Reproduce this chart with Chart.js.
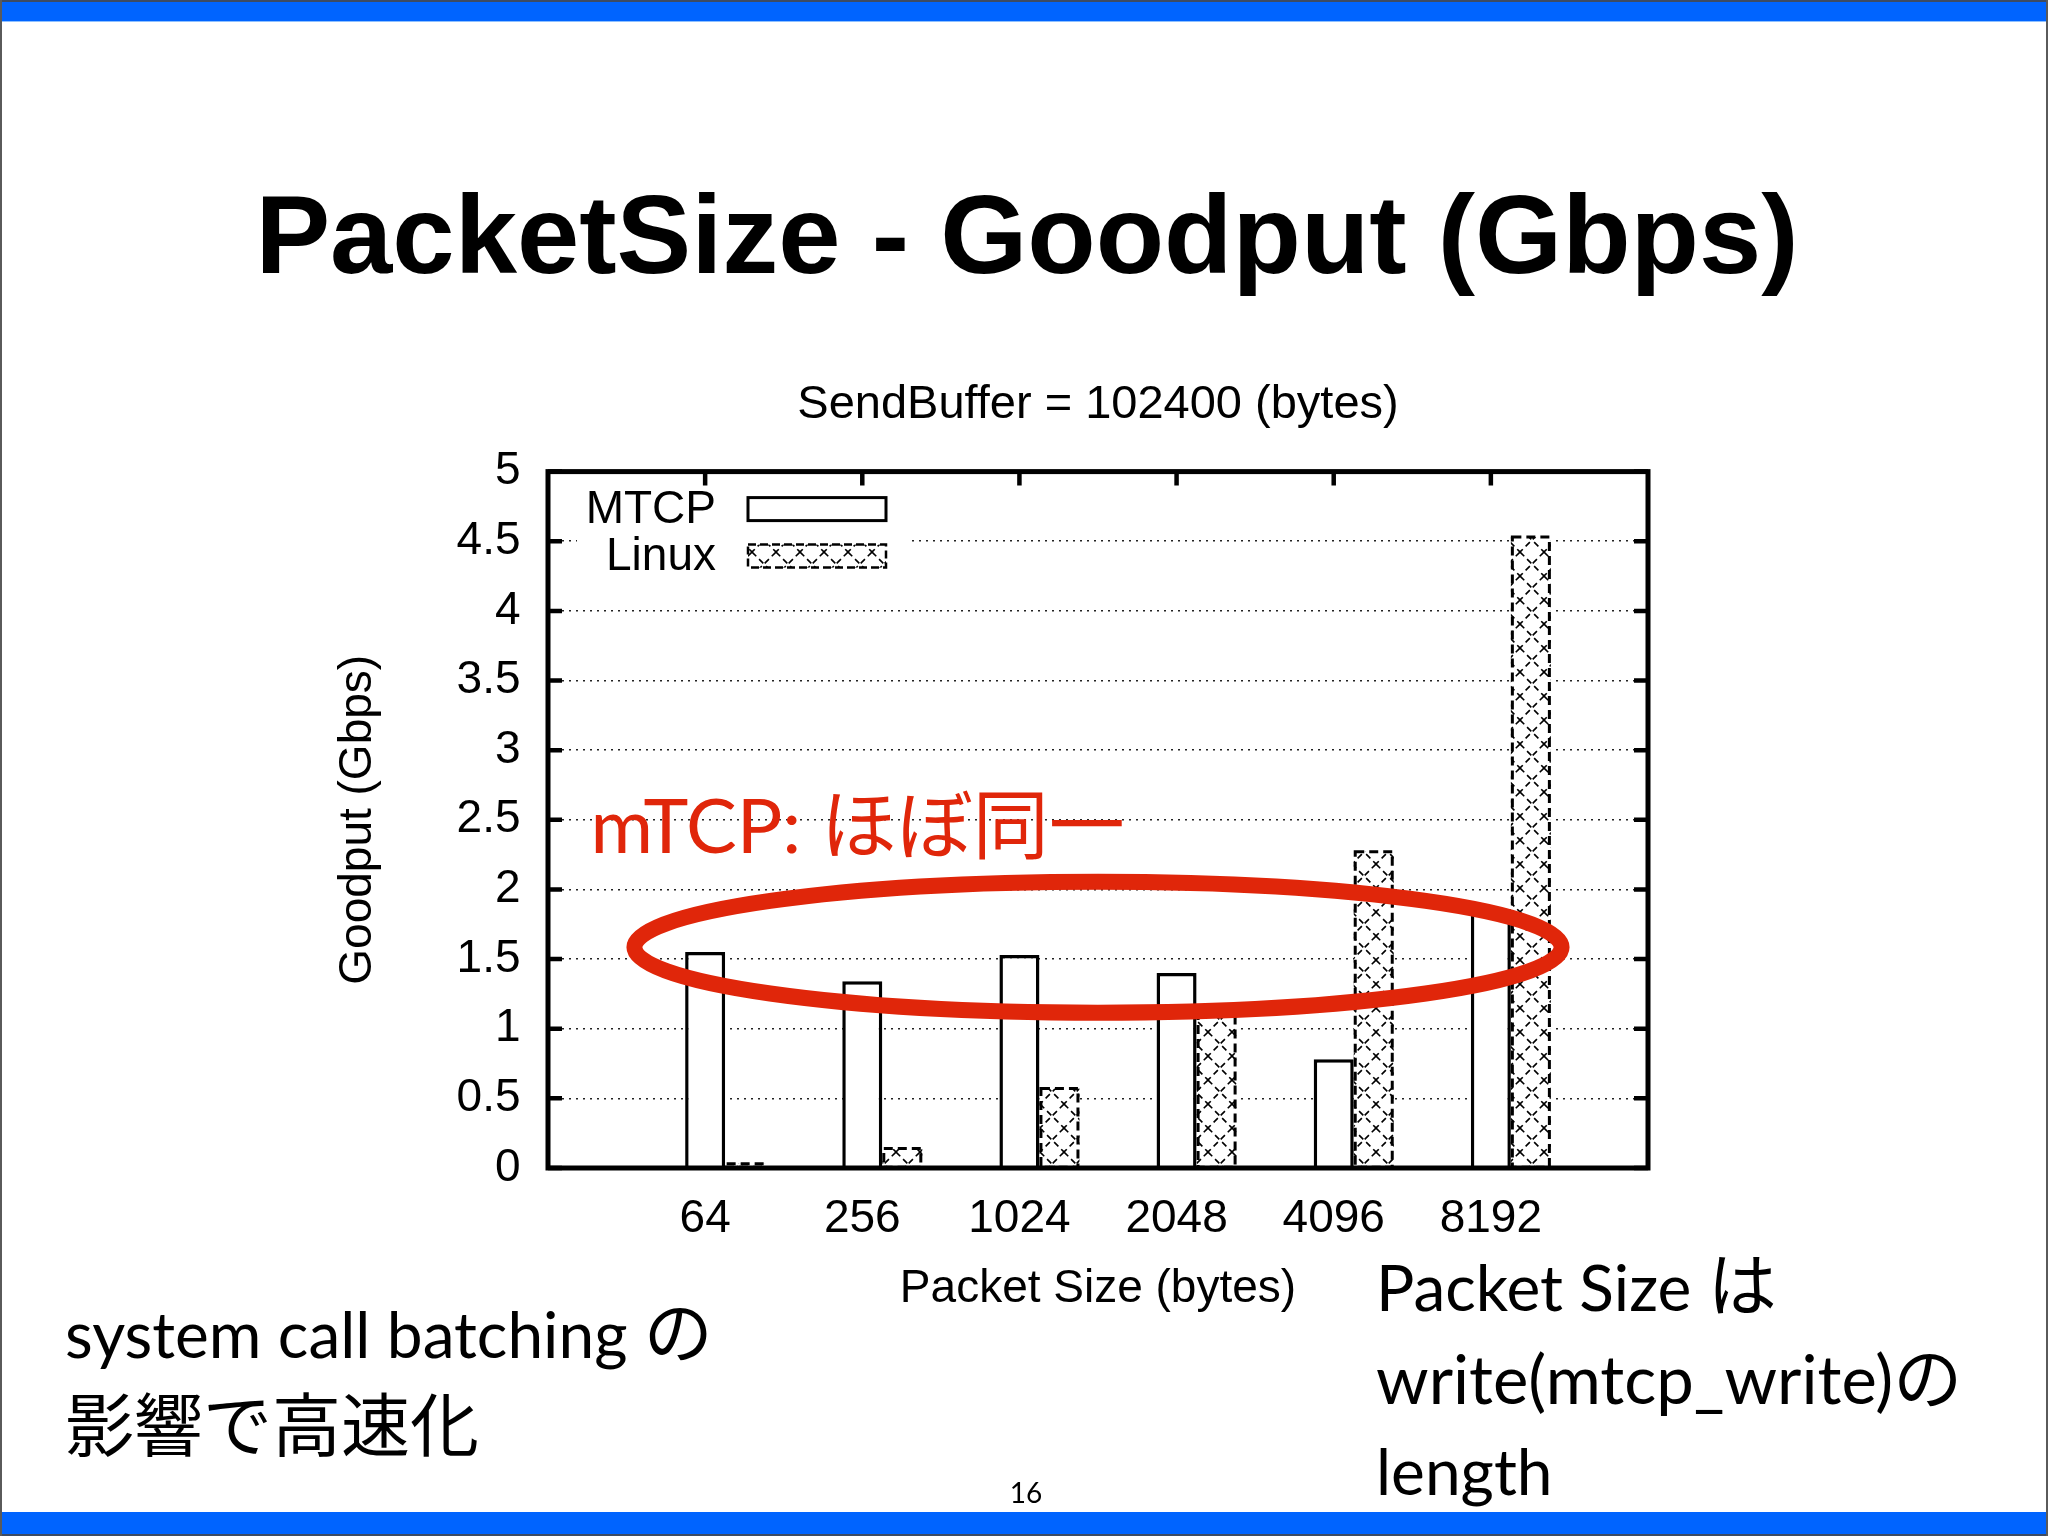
<!DOCTYPE html>
<html>
<head>
<meta charset="utf-8">
<script src="https://cdn.jsdelivr.net/npm/chart.js@4.4.1/dist/chart.umd.min.js"></script>
<style>
  body { margin: 0; background: #fff; }
  #slide {
    position: relative; width: 2048px; height: 1536px; overflow: hidden;
    background: #fff; box-sizing: border-box;
    border-left: 2px solid #5a5a5a; border-right: 2px solid #5a5a5a;
  }
  .band { position: absolute; left: 0; width: 100%; background: #0064ff; }
  .band.top { top: 0; height: 22px; border-top: 2px solid #3d4b63; border-bottom: 1px solid #8ec0ff; box-sizing: border-box; }
  .band.bottom { top: 1512px; height: 24px; border-bottom: 2px solid #3d4b63; box-sizing: border-box; }
  h1 {
    position: absolute; left: 0; top: 179px; width: 2050px; margin: 0;
    text-align: center; font: bold 112px/112px "Liberation Sans", Arial, sans-serif; color: #000;
  }
  #wrap { position: absolute; left: 246px; top: 0; width: 1700px; height: 1536px; }
  .note {
    position: absolute; font: 64px/91px Lato, "Noto Sans CJK JP", sans-serif; color: #000;
    white-space: nowrap; z-index: 2;
  }
  .note .ja { font-size: 69px; }
  .note .wide { font-size: 67px; }
  .page {
    position: absolute; left: 974px; top: 1478px; width: 100px; text-align: center;
    font: 28px/28px Lato, sans-serif; color: #000;
  }
</style>
</head>
<body>
<div id="slide">
  <div class="band top"></div>
  <div class="band bottom"></div>
  <h1>PacketSize - Goodput (Gbps)</h1>
  <div id="wrap"><canvas id="chart"></canvas></div>
  <div class="note" style="left:63px; top:1286px;">system call batching <span class="ja">の</span><br><span class="ja">影響で高速化</span></div>
  <div class="note" style="left:1374px; top:1239px;">Packet Size <span class="ja">は</span><br><span class="wide">write(mtcp_write)</span><span class="ja">の</span><br>length</div>
  <div class="page">16</div>
</div>
<script>
// data
const packetSizes = ['64', '256', '1024', '2048', '4096', '8192'];
const mtcpGoodput = [1.55, 1.34, 1.53, 1.40, 0.78, 1.86];
const linuxGoodput = [0.03, 0.14, 0.57, 1.13, 2.27, 4.53];
const yTickLabels = ['0', '0.5', '1', '1.5', '2', '2.5', '3', '3.5', '4', '4.5', '5'];

// red annotation, in data units
const ring = { x: 3.5, y: 1.585, rx: 2.95, ry: 0.47 };
const ringNote = { text: 'mTCP: ほぼ同一', x: 0.27, y: 2.265 };
const RED = 'rgb(224,38,10)';

const FONT = "'Liberation Sans', Arial, Helvetica, sans-serif";
Chart.defaults.font.family = FONT;
Chart.defaults.font.size = 46;
Chart.defaults.color = '#000';

// empty slot at each end so the axis runs from -1 to 6 like gnuplot
const labels = ['', ...packetSizes, ''];
const pad = arr => [null, ...arr, null];

function makeHatch() {
  const n = 24;
  const c = document.createElement('canvas');
  c.width = n; c.height = n;
  const g = c.getContext('2d');
  g.fillStyle = '#fff';
  g.fillRect(0, 0, n, n);
  g.strokeStyle = '#000';
  g.lineWidth = 1.6;
  g.setLineDash([6, 4]);
  g.beginPath();
  g.moveTo(0, 0); g.lineTo(n, n);
  g.moveTo(n, 0); g.lineTo(0, n);
  g.stroke();
  return g.createPattern(c, 'repeat');
}
const hatch = makeHatch();

// dashed outline for the Linux bars, frame with inward ticks
const framePlugin = {
  id: 'frame',
  afterDatasetsDraw(chart) {
    const { ctx, chartArea: a, scales: { x, y } } = chart;
    ctx.save();
    const meta = chart.getDatasetMeta(2);
    const raw = chart.data.datasets[2].data;
    ctx.strokeStyle = '#000';
    ctx.lineWidth = 3;
    ctx.setLineDash([9, 5]);
    meta.data.forEach((bar, i) => {
      if (raw[i] == null) return;
      const p = bar.getProps(['x', 'y', 'base', 'width'], true);
      ctx.strokeRect(p.x - p.width / 2 + 1.5, p.y, p.width - 3, p.base - p.y);
    });
    ctx.setLineDash([]);
    ctx.lineWidth = 5;
    ctx.strokeRect(a.left, a.top, a.right - a.left, a.bottom - a.top);
    ctx.lineWidth = 4.5;
    ctx.beginPath();
    y.ticks.forEach(t => {
      const py = y.getPixelForValue(t.value);
      ctx.moveTo(a.left, py); ctx.lineTo(a.left + 14, py);
      ctx.moveTo(a.right, py); ctx.lineTo(a.right - 14, py);
    });
    x.ticks.forEach((t, i) => {
      if (!labels[t.value]) return;
      const px = x.getPixelForTick(i);
      ctx.moveTo(px, a.top); ctx.lineTo(px, a.top + 14);
    });
    ctx.stroke();
    ctx.restore();
  }
};

// gnuplot style key: text on the left, long swatch on the right
const keyPlugin = {
  id: 'key',
  beforeDatasetsDraw(chart) {
    const { ctx, chartArea: a } = chart;
    ctx.save();
    ctx.fillStyle = '#fff';
    ctx.fillRect(a.left + 29, a.top + 14, 335, 96);
    ctx.font = '46px ' + FONT;
    ctx.textAlign = 'right';
    ctx.textBaseline = 'middle';
    [1, 2].forEach((di, row) => {
      const ds = chart.data.datasets[di];
      const cy = a.top + 37 + row * 47;
      ctx.fillStyle = '#000';
      ctx.fillText(ds.label, a.left + 168, cy + 2);
      ctx.fillStyle = ds.backgroundColor;
      ctx.fillRect(a.left + 200, cy - 11, 138, 23);
      ctx.strokeStyle = '#000';
      ctx.lineWidth = di === 1 ? 3 : 2.5;
      ctx.setLineDash(di === 1 ? [] : [8, 4]);
      ctx.strokeRect(a.left + 200, cy - 11, 138, 23);
    });
    ctx.restore();
  }
};

const ringPlugin = {
  id: 'ring',
  afterDraw(chart) {
    const { ctx, scales: { x, y } } = chart;
    const cx = x.getPixelForValue(ring.x), cy = y.getPixelForValue(ring.y);
    const rx = x.getPixelForValue(ring.x + ring.rx) - cx;
    const ry = cy - y.getPixelForValue(ring.y + ring.ry);
    ctx.save();
    ctx.strokeStyle = RED;
    ctx.lineWidth = 16;
    ctx.beginPath();
    ctx.ellipse(cx, cy, rx, ry, 0, 0, Math.PI * 2);
    ctx.stroke();
    ctx.fillStyle = RED;
    ctx.font = "76px Lato, 'Noto Sans CJK JP', sans-serif";
    ctx.textBaseline = 'alphabetic';
    ctx.fillText(ringNote.text, x.getPixelForValue(ringNote.x), y.getPixelForValue(ringNote.y));
    ctx.restore();
  }
};

new Chart(document.getElementById('chart'), {
  type: 'bar',
  data: {
    labels: labels,
    datasets: [
      { label: '', data: pad(packetSizes.map(() => null)) },
      { label: 'MTCP', data: pad(mtcpGoodput), backgroundColor: '#fff', borderColor: '#000', borderWidth: 3.5 },
      { label: 'Linux', data: pad(linuxGoodput), backgroundColor: hatch, borderWidth: 0 }
    ]
  },
  options: {
    responsive: true,
    maintainAspectRatio: false,
    devicePixelRatio: 1,
    animation: false,
    categoryPercentage: 0.764,
    barPercentage: 1,
    layout: { padding: 0 },
    plugins: {
      legend: { display: false },
      tooltip: { enabled: false },
      title: {
        display: true,
        text: 'SendBuffer = 102400 (bytes)',
        font: { size: 47, weight: 'normal', lineHeight: 1.2 },
        padding: { top: 376.8, bottom: 38.4 }
      }
    },
    scales: {
      x: {
        offset: false,
        grid: { display: false, drawTicks: false },
        border: { display: false },
        ticks: { padding: 24, maxRotation: 0, autoSkip: false },
        title: { display: true, text: 'Packet Size (bytes)', font: { size: 46, lineHeight: 1.2 }, padding: { top: 0, bottom: 219.5 } },
        afterFit: s => { s.height = 368; }
      },
      y: {
        min: 0,
        max: 5,
        ticks: { stepSize: 0.5, padding: 27.5, callback: (v, i) => yTickLabels[i] },
        grid: { color: '#222', lineWidth: 1.5, drawTicks: false },
        border: { display: false, dash: [2, 5] },
        title: { display: true, text: 'Goodput (Gbps)', font: { size: 46, lineHeight: 1.2 }, padding: { top: 82.4, bottom: 0 } },
        afterFit: s => { s.width = 300; }
      },
      // empty right-hand box so the plot sits where gnuplot put it and the title stays centred on it
      yRight: {
        position: 'right',
        min: 0,
        max: 5,
        ticks: { display: false },
        grid: { display: false, drawTicks: false },
        border: { display: false },
        afterFit: s => { s.width = 300; }
      }
    }
  },
  plugins: [keyPlugin, framePlugin, ringPlugin]
});
</script>
</body>
</html>
